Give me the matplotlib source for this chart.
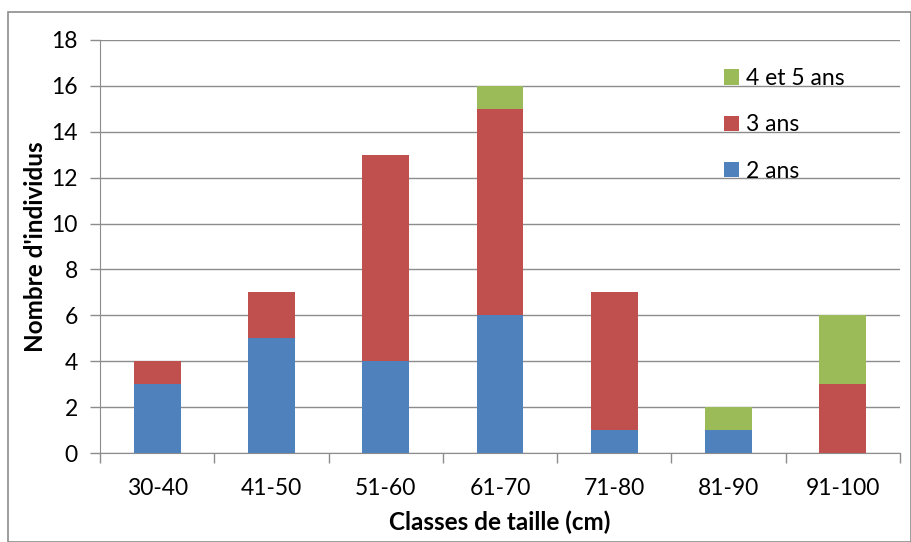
import numpy as np
import matplotlib
matplotlib.use("Agg")
import matplotlib.pyplot as plt
from matplotlib.patches import Rectangle

plt.rcParams["font.family"] = ["Lato", "DejaVu Sans"]

# Data
classes = ["30-40", "41-50", "51-60", "61-70", "71-80", "81-90", "91-100"]
ans_2 = [3, 5, 4, 6, 1, 1, 0]
ans_3 = [1, 2, 9, 9, 6, 0, 3]
ans_45 = [0, 0, 0, 1, 0, 1, 3]

blue = "#4F81BD"
red = "#C0504D"
green = "#9BBB59"
axis_gray = "#8C8C8C"

fig = plt.figure(figsize=(9.12, 5.42), dpi=100)
ax = fig.add_axes([100 / 912, 1 - 453 / 542, 800 / 912, 413 / 542])

x = np.arange(len(classes))
w = 0.41
b1 = ax.bar(x, ans_2, w, color=blue, label="2 ans", zorder=3)
b2 = ax.bar(x, ans_3, w, bottom=ans_2, color=red, label="3 ans", zorder=3)
bottom_45 = np.array(ans_2) + np.array(ans_3)
b3 = ax.bar(x, ans_45, w, bottom=bottom_45, color=green, label="4 et 5 ans", zorder=3)

ax.set_xlim(-0.5, len(classes) - 0.5)
ax.set_ylim(0, 18)
ax.set_yticks(range(0, 19, 2))
ax.set_xticks(x)
ax.set_xticklabels(classes)
ax.set_xticks(np.arange(-0.5, len(classes), 1), minor=True)

ax.grid(axis="y", color=axis_gray, linewidth=1, zorder=0)
for s in ["top", "right"]:
    ax.spines[s].set_visible(False)
ax.spines["left"].set_color(axis_gray)
ax.spines["bottom"].set_color(axis_gray)

ax.tick_params(axis="y", color=axis_gray, length=7, width=1, labelsize=16.5, pad=9)
ax.tick_params(axis="x", which="major", length=0, labelsize=16.5, pad=18)
ax.tick_params(axis="x", which="minor", color=axis_gray, length=7, width=1)

ax.set_xlabel("Classes de taille (cm)", fontsize=17.5, fontweight="bold", labelpad=8)
ax.set_ylabel("Nombre d'individus", fontsize=17.5, fontweight="bold", labelpad=3)

ax.legend(handles=[b3, b2, b1], loc="upper left", bbox_to_anchor=(0.78, 0.932),
          borderaxespad=0, borderpad=0, frameon=False, fontsize=16.5,
          handlelength=0.65, handleheight=0.65, handletextpad=0.3,
          labelspacing=1.1)

fig.patches.append(Rectangle((8 / 912, 0.0), 903 / 912, 1 - 12 / 542,
                             transform=fig.transFigure, fill=False,
                             edgecolor=axis_gray, linewidth=1.2))

fig.savefig("out.png", dpi=100)
